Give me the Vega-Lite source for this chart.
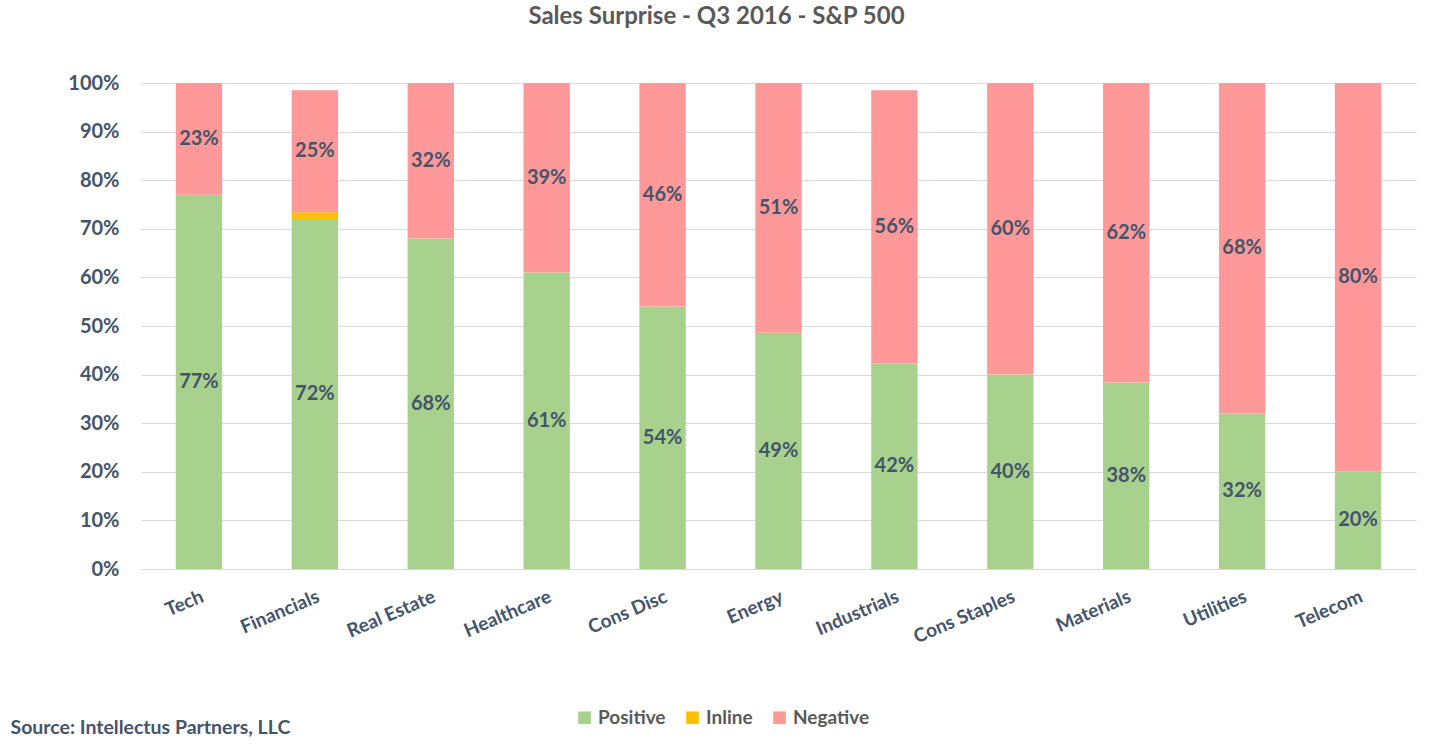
{
  "$schema": "https://vega.github.io/schema/vega-lite/v6.json",
  "width": 1275,
  "height": 486,
  "autosize": {"type": "none"},
  "padding": {"left": 141, "top": 83, "right": 17, "bottom": 175},
  "background": "white",
  "title": {
    "text": "Sales Surprise - Q3 2016 - S&P 500",
    "font": "Lato",
    "fontSize": 24,
    "fontWeight": "bold",
    "color": "#595959",
    "anchor": "middle",
    "offset": 44,
    "dx": -62
  },
  "data": {
    "values": [
      {"sector": "Tech", "type": "Positive", "value": 0.77},
      {"sector": "Tech", "type": "Inline", "value": 0},
      {"sector": "Tech", "type": "Negative", "value": 0.23},
      {"sector": "Financials", "type": "Positive", "value": 0.72},
      {"sector": "Financials", "type": "Inline", "value": 0.014},
      {"sector": "Financials", "type": "Negative", "value": 0.251},
      {"sector": "Real Estate", "type": "Positive", "value": 0.68},
      {"sector": "Real Estate", "type": "Inline", "value": 0},
      {"sector": "Real Estate", "type": "Negative", "value": 0.32},
      {"sector": "Healthcare", "type": "Positive", "value": 0.61},
      {"sector": "Healthcare", "type": "Inline", "value": 0},
      {"sector": "Healthcare", "type": "Negative", "value": 0.39},
      {"sector": "Cons Disc", "type": "Positive", "value": 0.54},
      {"sector": "Cons Disc", "type": "Inline", "value": 0},
      {"sector": "Cons Disc", "type": "Negative", "value": 0.46},
      {"sector": "Energy", "type": "Positive", "value": 0.486},
      {"sector": "Energy", "type": "Inline", "value": 0},
      {"sector": "Energy", "type": "Negative", "value": 0.514},
      {"sector": "Industrials", "type": "Positive", "value": 0.423},
      {"sector": "Industrials", "type": "Inline", "value": 0},
      {"sector": "Industrials", "type": "Negative", "value": 0.562},
      {"sector": "Cons Staples", "type": "Positive", "value": 0.40},
      {"sector": "Cons Staples", "type": "Inline", "value": 0},
      {"sector": "Cons Staples", "type": "Negative", "value": 0.60},
      {"sector": "Materials", "type": "Positive", "value": 0.384},
      {"sector": "Materials", "type": "Inline", "value": 0},
      {"sector": "Materials", "type": "Negative", "value": 0.616},
      {"sector": "Utilities", "type": "Positive", "value": 0.32},
      {"sector": "Utilities", "type": "Inline", "value": 0},
      {"sector": "Utilities", "type": "Negative", "value": 0.68},
      {"sector": "Telecom", "type": "Positive", "value": 0.20},
      {"sector": "Telecom", "type": "Inline", "value": 0},
      {"sector": "Telecom", "type": "Negative", "value": 0.80}
    ]
  },
  "transform": [
    {"calculate": "indexof(['Positive','Inline','Negative'], datum.type)", "as": "ord"},
    {"stack": "value", "groupby": ["sector"], "sort": [{"field": "ord", "order": "ascending"}], "as": ["v0", "v1"]},
    {"calculate": "(datum.v0 + datum.v1) / 2", "as": "mid"}
  ],
  "encoding": {
    "x": {
      "field": "sector",
      "type": "nominal",
      "sort": null,
      "scale": {"paddingInner": 0.6, "paddingOuter": 0.3},
      "axis": {
        "labelAngle": -23,
        "labelFont": "Lato",
        "labelFontSize": 19,
        "labelFontWeight": "bold",
        "labelColor": "#44546A",
        "labelPadding": 18,
        "ticks": false,
        "domainColor": "#D9D9D9",
        "title": "Source: Intellectus Partners, LLC",
        "titleFont": "Lato",
        "titleFontSize": 19.5,
        "titleFontWeight": "bold",
        "titleColor": "#44546A",
        "titleAnchor": "start",
        "titleAlign": "left",
        "titleBaseline": "alphabetic",
        "titleX": -131,
        "titleY": 164
      }
    }
  },
  "layer": [
    {
      "mark": {"type": "bar"},
      "encoding": {
        "y": {
          "field": "v0",
          "type": "quantitative",
          "scale": {"domain": [0, 1]},
          "axis": {
            "values": [0, 0.1, 0.2, 0.3, 0.4, 0.5, 0.6, 0.7, 0.8, 0.9, 1],
            "format": ".0%",
            "labelFont": "Lato",
            "labelFontSize": 20,
            "labelFontWeight": "bold",
            "labelColor": "#44546A",
            "labelPadding": 22,
            "ticks": false,
            "domain": false,
            "gridColor": "#D9D9D9",
            "title": null
          }
        },
        "y2": {"field": "v1"},
        "color": {
          "field": "type",
          "type": "nominal",
          "sort": ["Positive", "Inline", "Negative"],
          "scale": {"domain": ["Positive", "Inline", "Negative"], "range": ["#A9D18E", "#FFC000", "#FF9999"]},
          "legend": {
            "orient": "none",
            "legendX": 434,
            "legendY": 625,
            "direction": "horizontal",
            "title": null,
            "symbolType": "square",
            "symbolSize": 160,
            "symbolStrokeWidth": 0,
            "labelFont": "Lato",
            "labelFontSize": 19,
            "labelFontWeight": "bold",
            "labelColor": "#595959",
            "columnPadding": 17
          }
        }
      }
    },
    {
      "transform": [{"filter": "datum.type != 'Inline'"}],
      "mark": {"type": "text", "font": "Lato", "fontSize": 20, "fontWeight": "bold", "color": "#44546A", "baseline": "middle"},
      "encoding": {
        "y": {"field": "mid", "type": "quantitative"},
        "text": {"field": "value", "type": "quantitative", "format": ".0%"}
      }
    }
  ],
  "config": {"view": {"stroke": null}}
}
